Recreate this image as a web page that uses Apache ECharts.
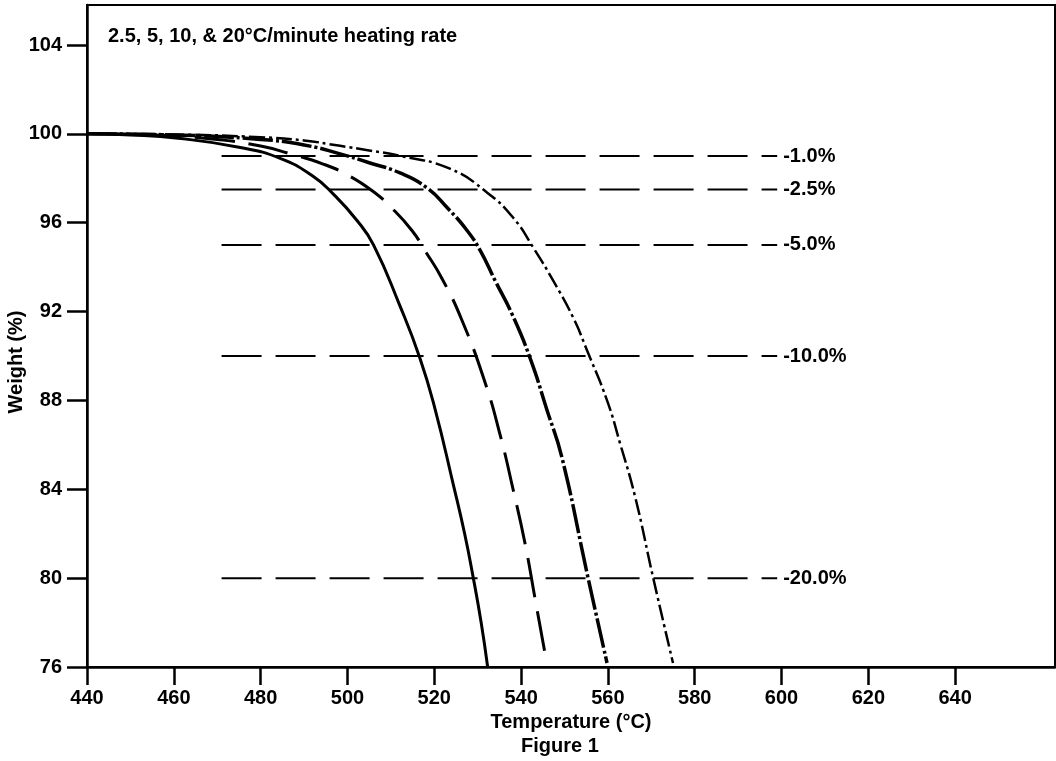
<!DOCTYPE html>
<html>
<head>
<meta charset="utf-8">
<script src="https://cdn.jsdelivr.net/npm/echarts@6/dist/echarts.min.js"></script>
<style>
html,body{margin:0;padding:0;background:#fff;}
#chart{width:1056px;height:761px;}
</style>
</head>
<body>
<div id="chart"></div>
<script>
// ---- data ----
const titleText = '2.5, 5, 10, & 20\u00B0C/minute heating rate';
const xTicks = [440, 460, 480, 500, 520, 540, 560, 580, 600, 620, 640];
const yTicks = [76, 80, 84, 88, 92, 96, 100, 104];

const rate2_5 = [[440,100],[450,99.95],[461,99.8],[475,99.4],[484.5,98.9],[492,98.1],[496.7,97.3],[502.2,96.1],[506,95.0],[512,92.3],[516.7,89.9],[520.2,87.6],[524.4,84.2],[527,82.0],[529,80.0],[530.8,78.0],[532.3,76.0]];
const rate5 = [[440,100],[455,99.95],[470,99.75],[480,99.45],[486,99.15],[494.4,98.64],[500,98.15],[505.7,97.44],[510,96.7],[514.9,95.64],[518,94.7],[521.8,93.48],[526.4,91.6],[531.7,88.81],[535.2,86.43],[538.2,83.96],[540.9,81.57],[543.2,79.1],[545.5,76.63]];
const rate10 = [[440,100],[460,99.95],[480,99.75],[490,99.5],[498.3,99.1],[505,98.7],[512.1,98.24],[518.3,97.57],[523,96.67],[527.6,95.64],[530.6,94.74],[534,93.4],[538,91.85],[542.1,89.89],[546,87.55],[549.4,85.44],[555.4,80.04],[559.8,76.18]];
const rate20 = [[440,100],[460,99.97],[480,99.85],[490,99.7],[498.3,99.46],[505,99.25],[512.1,99.01],[523.6,98.43],[532.2,97.35],[538.2,96.22],[542.8,94.88],[547.4,93.39],[552,91.73],[555.2,90.25],[559.8,88.0],[562.8,86.07],[566.3,83.64],[570.4,80.04],[575,76.18]];

const refLevels = [99, 97.5, 95, 90, 80];
const refLabels = ['-1.0%', '-2.5%', '-5.0%', '-10.0%', '-20.0%'];
const refStart = 471;
const refEnd = 599;

// ---- chart ----
const FONT = '"Liberation Sans", Arial, Helvetica, sans-serif';
const FS = 20;
const chart = echarts.init(document.getElementById('chart'), null, {renderer: 'canvas'});

const curveDefs = [
  {name: '2.5', data: rate2_5, type: 'solid', width: 3},
  {name: '5', data: rate5, type: [40, 14], width: 3},
  {name: '10', data: rate10, type: [30, 3, 3, 3], width: 3.5},
  {name: '20', data: rate20, type: [16, 4, 3, 4], width: 2.5}
];

const series = [];
curveDefs.forEach(c => {
  series.push({
    type: 'line', name: c.name, data: c.data, showSymbol: false, smooth: 0.5,
    silent: true, clip: true,
    lineStyle: {color: '#000', width: c.width, type: c.type, cap: 'butt', join: 'round'}
  });
});
refLevels.forEach((lvl, i) => {
  series.push({
    type: 'line', name: refLabels[i], data: [[refStart, lvl], [refEnd, lvl]],
    showSymbol: false, silent: true,
    lineStyle: {color: '#000', width: 2, type: [40, 14]},
    endLabel: {show: true, formatter: refLabels[i], distance: 6,
      color: '#000', fontFamily: FONT, fontWeight: 'bold', fontSize: FS}
  });
});

chart.setOption({
  animation: false,
  backgroundColor: '#fff',
  title: {
    text: titleText, left: 108, top: 26, padding: 0,
    textStyle: {fontFamily: FONT, fontWeight: 'bold', fontSize: FS, color: '#000'}
  },
  grid: {left: 87, top: 5, right: 1, bottom: 94, show: true, borderColor: '#000', borderWidth: 2,
    containLabel: false, outerBoundsMode: 'none'},
  xAxis: {
    type: 'value', min: 440, max: 663, interval: 20,
    name: 'Temperature (\u00B0C)', nameLocation: 'middle', nameGap: 40,
    nameTextStyle: {fontFamily: FONT, fontWeight: 'bold', fontSize: FS, color: '#000'},
    axisLine: {show: true, lineStyle: {color: '#000', width: 2.5}},
    axisTick: {show: true, length: 18, lineStyle: {color: '#000', width: 2.5}, customValues: xTicks},
    axisLabel: {color: '#000', fontFamily: FONT, fontWeight: 'bold', fontSize: FS, margin: 21, customValues: xTicks},
    splitLine: {show: false}
  },
  yAxis: {
    type: 'value', min: 76, max: 105.8, interval: 4,
    axisLine: {show: true, lineStyle: {color: '#000', width: 2.5}},
    axisTick: {show: true, length: 20, lineStyle: {color: '#000', width: 2.5}, customValues: yTicks},
    axisLabel: {color: '#000', fontFamily: FONT, fontWeight: 'bold', fontSize: FS, margin: 25, customValues: yTicks},
    splitLine: {show: false}
  },
  graphic: [
    {type: 'text', left: 521, top: 736,
      style: {text: 'Figure 1', fill: '#000', font: 'bold ' + FS + 'px ' + FONT}},
    {type: 'text', x: 16.5, y: 362, rotation: Math.PI / 2,
      style: {text: 'Weight (%)', fill: '#000', font: 'bold ' + FS + 'px ' + FONT, align: 'center', verticalAlign: 'middle'}}
  ],
  series: series
});
</script>
</body>
</html>
